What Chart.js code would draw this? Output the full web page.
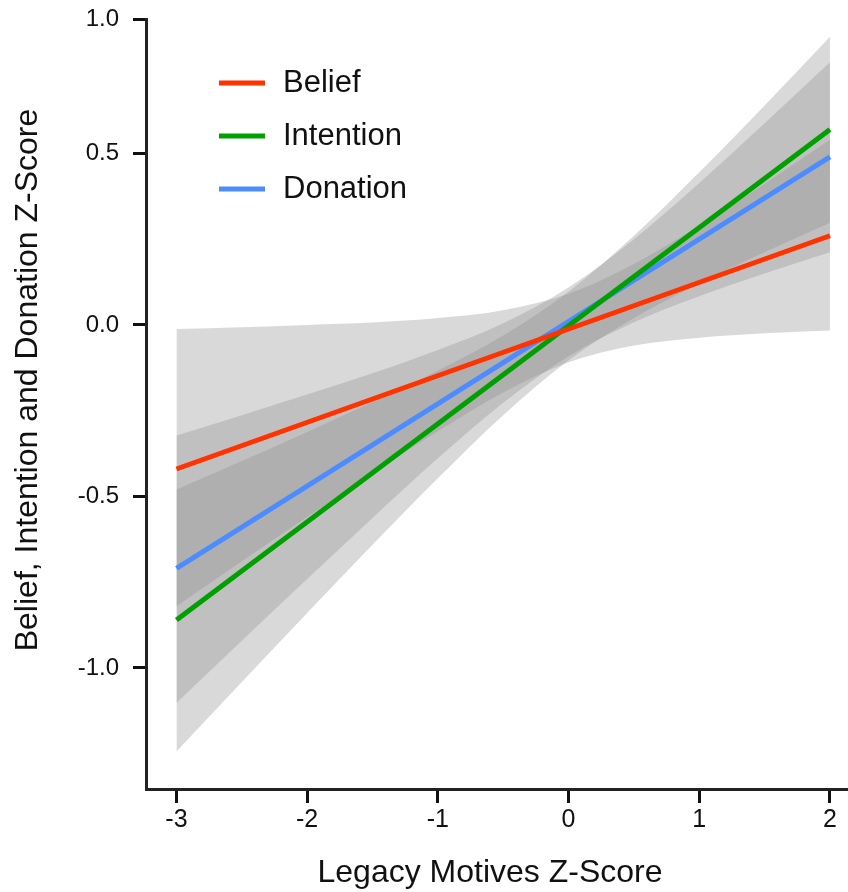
<!DOCTYPE html>
<html>
<head>
<meta charset="utf-8">
<script src="https://cdn.jsdelivr.net/npm/chart.js@4.4.1/dist/chart.umd.min.js"></script>
<style>
  html, body { margin: 0; padding: 0; background: #fff; }
  #wrap { width: 848px; height: 892px; position: relative; }
</style>
</head>
<body>
<div id="wrap"><canvas id="chart"></canvas></div>
<script>
// fitted lines (end points)
const lineX = [-3, 2];
const beliefLine = [-0.42, 0.26];
const intentionLine = [-0.86, 0.57];
const donationLine = [-0.71, 0.49];

const bandX = [-3, -2.5, -2, -1.5, -1, -0.5, 0, 0.5, 1, 1.5, 2];
const beliefUpper = [-0.012, -0.007, 0.000, 0.007, 0.020, 0.043, 0.091, 0.178, 0.289, 0.412, 0.540];
const beliefLower = [-0.820, -0.689, -0.560, -0.433, -0.310, -0.197, -0.109, -0.060, -0.037, -0.024, -0.016];
const intentionUpper = [-0.480, -0.397, -0.312, -0.225, -0.133, -0.031, 0.097, 0.260, 0.445, 0.640, 0.840];
const intentionLower = [-1.244, -1.041, -0.840, -0.641, -0.447, -0.263, -0.103, 0.020, 0.121, 0.212, 0.298];
const donationUpper = [-0.322, -0.263, -0.203, -0.141, -0.073, 0.005, 0.109, 0.250, 0.414, 0.588, 0.766];
const donationLower = [-1.102, -0.921, -0.741, -0.563, -0.389, -0.227, -0.091, 0.008, 0.084, 0.150, 0.212];

const xTicks = [-3, -2, -1, 0, 1, 2];
const yTickValues = [-1, -0.5, 0, 0.5, 0.89];
const yTickLabels = ['-1.0', '-0.5', '0.0', '0.5', '1.0'];

const xTitle = 'Legacy Motives Z-Score';
const yTitle = 'Belief, Intention and Donation Z-Score';

const FONT = '"Liberation Sans", Arial, Helvetica, sans-serif';
const bandFill = 'rgba(144, 144, 144, 0.34)';

const pts = (xs, ys) => xs.map((x, i) => ({ x: x, y: ys[i] }));

function band(upper, lower) {
    const common = {
        borderWidth: 0,
        borderColor: 'rgba(0,0,0,0)',
        pointRadius: 0,
        cubicInterpolationMode: 'monotone',
        order: 2
    };
    return [
        Object.assign({ data: pts(bandX, upper), fill: '+1', backgroundColor: bandFill }, common),
        Object.assign({ data: pts(bandX, lower), fill: false }, common)
    ];
}

function fitLine(label, ys, color) {
    return {
        label: label,
        data: pts(lineX, ys),
        borderColor: color,
        borderWidth: 5,
        pointRadius: 0,
        fill: false,
        order: 0
    };
}

// legend drawn inside the plot, top left
const insideLegend = {
    id: 'insideLegend',
    afterDatasetsDraw(chart) {
        const ctx = chart.ctx;
        const area = chart.chartArea;
        ctx.save();
        ctx.font = '31px ' + FONT;
        ctx.textBaseline = 'middle';
        chart.data.datasets.filter(d => d.label).forEach((d, i) => {
            const y = area.top + 64 + i * 53;
            ctx.strokeStyle = d.borderColor;
            ctx.lineWidth = 5;
            ctx.beginPath();
            ctx.moveTo(area.left + 73, y);
            ctx.lineTo(area.left + 119, y);
            ctx.stroke();
            ctx.fillStyle = '#111';
            ctx.fillText(d.label, area.left + 137, y);
        });
        ctx.restore();
    }
};

// axis titles: both sit a little off the plot centre in the original
const axisTitles = {
    id: 'axisTitles',
    afterDraw(chart) {
        const ctx = chart.ctx;
        ctx.save();
        ctx.font = '32px ' + FONT;
        ctx.fillStyle = '#111';
        ctx.textAlign = 'center';
        ctx.textBaseline = 'middle';
        ctx.fillText(xTitle, 490, 873);
        ctx.translate(28, 380);
        ctx.rotate(-Math.PI / 2);
        ctx.fillText(yTitle, 0, 0);
        ctx.restore();
    }
};

Chart.defaults.font.family = FONT;

const axisGrid = {
    drawOnChartArea: false,
    drawTicks: true,
    tickWidth: 3,
    tickColor: '#111'
};

new Chart(document.getElementById('chart'), {
    type: 'line',
    data: {
        datasets: [
            ...band(beliefUpper, beliefLower),
            ...band(intentionUpper, intentionLower),
            ...band(donationUpper, donationLower),
            fitLine('Belief', beliefLine, '#ff3300'),
            fitLine('Intention', intentionLine, '#00a000'),
            fitLine('Donation', donationLine, '#4d8cff')
        ]
    },
    options: {
        responsive: true,
        maintainAspectRatio: false,
        animation: false,
        layout: { padding: { top: 19, left: 0, right: 0, bottom: 0 } },
        plugins: {
            legend: { display: false },
            tooltip: { enabled: false }
        },
        scales: {
            x: {
                type: 'linear',
                min: -3.233,
                max: 2.138,
                afterBuildTicks: s => { s.ticks = xTicks.map(v => ({ value: v })); },
                afterFit: s => { s.height = 103; },
                grid: Object.assign({ tickLength: 14 }, axisGrid),
                border: { display: true, color: '#222', width: 3 },
                ticks: {
                    font: { size: 25 },
                    color: '#111',
                    padding: 2,
                    maxRotation: 0,
                    callback: v => String(v)
                }
            },
            y: {
                type: 'linear',
                min: -1.353,
                max: 0.892,
                afterBuildTicks: s => { s.ticks = yTickValues.map(v => ({ value: v })); },
                afterFit: s => { s.width = 146; },
                grid: Object.assign({ tickLength: 13 }, axisGrid),
                border: { display: true, color: '#222', width: 3 },
                ticks: {
                    font: { size: 24, lineHeight: 0.3 },
                    color: '#111',
                    padding: 14,
                    callback: (v, i) => yTickLabels[i]
                }
            }
        }
    },
    plugins: [insideLegend, axisTitles]
});
</script>
</body>
</html>
